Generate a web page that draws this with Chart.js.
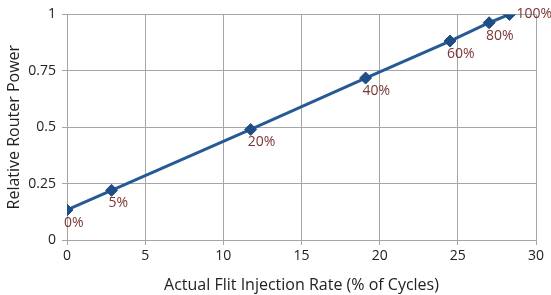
<!DOCTYPE html>
<html>
<head>
<meta charset="utf-8">
<script src="https://cdn.jsdelivr.net/npm/chart.js@4/dist/chart.umd.min.js"></script>
<style>
  html, body { margin: 0; padding: 0; background: #fff; }
  #wrap { width: 551px; height: 295px; }
</style>
</head>
<body>
<div id="wrap"><canvas id="powerChart"></canvas></div>
<script>
// injection rate (% of cycles) vs relative router power
const injectionRate = [0, 2.85, 11.75, 19.1, 24.5, 27.0, 28.3];
const relativePower = [0.133, 0.22, 0.49, 0.718, 0.882, 0.963, 1.0];
const pointLabels = ['0%', '5%', '20%', '40%', '60%', '80%', '100%'];
const xTicks = [0, 5, 10, 15, 20, 25, 30];
const yTicks = [0, 0.25, 0.5, 0.75, 1];

const FONT = '"Open Sans", sans-serif';
const GRID = '#a6a6a6';

// draw the percent labels next to each point
const pointLabelPlugin = {
    id: 'pointLabels',
    afterDatasetsDraw(chart) {
        const ctx = chart.ctx;
        const meta = chart.getDatasetMeta(0);
        ctx.save();
        ctx.font = '14px ' + FONT;
        ctx.fillStyle = '#7b3535';
        ctx.textBaseline = 'middle';
        ctx.textAlign = 'left';
        meta.data.forEach((pt, i) => {
            if (i === meta.data.length - 1) {
                ctx.fillText(pointLabels[i], pt.x + 7, pt.y);
            } else {
                ctx.fillText(pointLabels[i], pt.x - 3, pt.y + 13);
            }
        });
        ctx.restore();
    }
};

const ctx = document.getElementById('powerChart').getContext('2d');
new Chart(ctx, {
    type: 'scatter',
    data: {
        datasets: [{
            data: injectionRate.map((x, i) => ({ x: x, y: relativePower[i] })),
            showLine: true,
            borderColor: '#265a94',
            borderWidth: 3,
            pointStyle: 'rectRot',
            pointRadius: 6,
            pointBackgroundColor: '#1f4e87',
            pointBorderColor: '#1f4e87',
            pointBorderWidth: 1
        }]
    },
    options: {
        responsive: true,
        maintainAspectRatio: false,
        animation: false,
        layout: { padding: { top: 13, right: 15, left: 0, bottom: 0 } },
        plugins: {
            legend: { display: false },
            tooltip: { enabled: false }
        },
        scales: {
            x: {
                type: 'linear',
                min: 0,
                max: 30,
                afterBuildTicks: scale => { scale.ticks = xTicks.map(v => ({ value: v })); },
                ticks: { color: '#222', font: { family: FONT, size: 14 }, padding: 3, maxRotation: 0,
                    callback: v => String(v) },
                grid: { color: GRID, tickLength: 5, tickColor: GRID },
                border: { color: GRID },
                title: {
                    display: true,
                    text: 'Actual Flit Injection Rate (% of Cycles)',
                    color: '#222',
                    font: { family: FONT, size: 16 },
                    padding: { top: 2, bottom: 0 }
                },
                afterFit: scale => { scale.height = 55; }
            },
            y: {
                min: 0,
                max: 1,
                afterBuildTicks: scale => { scale.ticks = yTicks.map(v => ({ value: v })); },
                ticks: { color: '#222', font: { family: FONT, size: 14 }, padding: 6,
                    callback: v => String(v) },
                grid: { color: GRID, tickLength: 5, tickColor: GRID },
                border: { color: GRID },
                title: {
                    display: true,
                    text: 'Relative Router Power',
                    color: '#222',
                    font: { family: FONT, size: 16 },
                    padding: { top: 5, bottom: 0 }
                },
                afterFit: scale => { scale.width = 67; }
            }
        }
    },
    plugins: [pointLabelPlugin]
});
</script>
</body>
</html>
